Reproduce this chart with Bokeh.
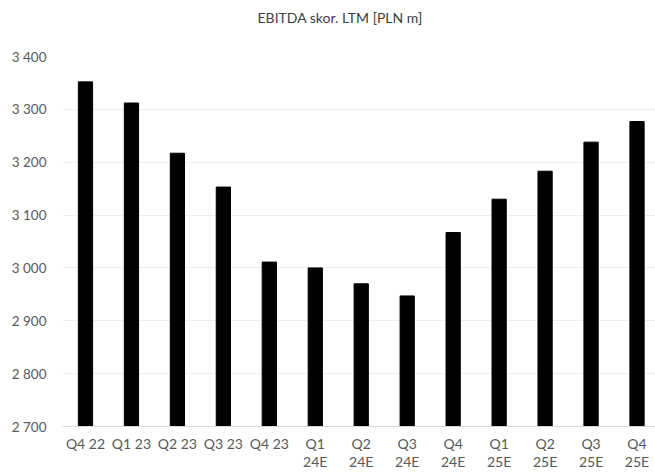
from bokeh.plotting import figure
from bokeh.models import Range1d, FixedTicker, Title
from bokeh.embed import file_html
from bokeh.resources import INLINE

# Quarterly adjusted EBITDA, last twelve months [PLN m]
quarters = ["Q4 22", "Q1 23", "Q2 23", "Q3 23", "Q4 23",
            "Q1\n24E", "Q2\n24E", "Q3\n24E", "Q4\n24E",
            "Q1\n25E", "Q2\n25E", "Q3\n25E", "Q4\n25E"]
ebitda = [3352, 3312, 3217, 3153, 3011, 3000, 2970, 2947, 3067, 3130, 3183, 3238, 3277]
y_ticks = [2700, 2800, 2900, 3000, 3100, 3200, 3300, 3400]
chart_title = "EBITDA skor. LTM [PLN m]"

FONT = "Lato"
LABEL_COLOR = "#595959"

xs = list(range(len(quarters)))

p = figure(width=655, height=473, output_backend="svg", toolbar_location=None,
           x_range=Range1d(-0.5, -0.5 + 593.5 / 46), y_range=Range1d(2700, 3400),
           min_border_left=62, min_border_right=0, min_border_top=56, min_border_bottom=45)
p.outline_line_color = None
p.background_fill_color = "white"
p.border_fill_color = "white"

# heading (outermost panel above the plot)
p.title.text = chart_title
p.title.align = "left"
p.title.offset = 195
p.title.standoff = 10
p.title.text_font = FONT
p.title.text_font_size = "14px"
p.title.text_font_style = "normal"
p.title.text_color = "#404040"

# blank gap between the heading and the plot area
p.add_layout(Title(text=" ", text_font_size="1px", standoff=23), "above")

p.vbar(x=xs, top=ebitda, bottom=2700, width=0.31, fill_color="black", line_color="black")

# y axis: spaced thousands, no line or ticks
p.yaxis.ticker = FixedTicker(ticks=y_ticks)
p.yaxis.major_label_overrides = {t: f"{t:,}".replace(",", " ") for t in y_ticks}
p.yaxis.axis_line_color = None
p.yaxis.major_tick_line_color = None
p.yaxis.major_tick_out = 0
p.yaxis.major_tick_in = 0
p.yaxis.minor_tick_line_color = None
p.yaxis.major_label_standoff = 16
p.yaxis.major_label_text_font = FONT
p.yaxis.major_label_text_font_size = "13.5px"
p.yaxis.major_label_text_color = LABEL_COLOR

# x axis: one label per quarter
p.xaxis.ticker = FixedTicker(ticks=xs)
p.xaxis.major_label_overrides = {i: q for i, q in zip(xs, quarters)}
p.xaxis.axis_line_color = "#d9d9d9"
p.xaxis.axis_line_width = 1
p.xaxis.major_tick_line_color = None
p.xaxis.major_tick_out = 0
p.xaxis.major_tick_in = 0
p.xaxis.minor_tick_line_color = None
p.xaxis.major_label_standoff = 8
p.xaxis.major_label_text_font = FONT
p.xaxis.major_label_text_font_size = "14px"
p.xaxis.major_label_text_line_height = 1.1
p.xaxis.major_label_text_color = LABEL_COLOR

p.xgrid.grid_line_color = None
p.ygrid.grid_line_color = "#eeeeee"
p.ygrid.grid_line_width = 1

open("out.html", "w").write(file_html(p, INLINE))
